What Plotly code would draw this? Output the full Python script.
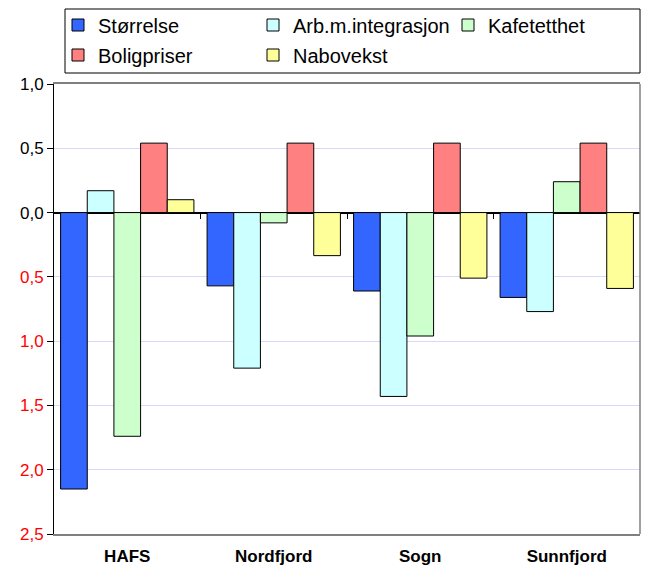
import plotly.graph_objects as go

categories = ["HAFS", "Nordfjord", "Sogn", "Sunnfjord"]

storrelse = [-2.15, -0.57, -0.61, -0.66]
arb_integrasjon = [0.17, -1.21, -1.43, -0.77]
kafetetthet = [-1.74, -0.08, -0.96, 0.24]
boligpriser = [0.54, 0.54, 0.54, 0.54]
nabovekst = [0.10, -0.335, -0.51, -0.59]

series = [
    ("Størrelse", storrelse, "#3366FF", "legend"),
    ("Arb.m.integrasjon", arb_integrasjon, "#CCFFFF", "legend"),
    ("Kafetetthet", kafetetthet, "#CCFFCC", "legend"),
    ("Boligpriser", boligpriser, "#FF8080", "legend2"),
    ("Nabovekst", nabovekst, "#FFFF99", "legend2"),
]

tick_vals = [1.0, 0.5, 0.0, -0.5, -1.0, -1.5, -2.0, -2.5]
tick_text = [
    "1,0", "0,5", "0,0",
    "<span style='color:#FF0000'>0,5</span>",
    "<span style='color:#FF0000'>1,0</span>",
    "<span style='color:#FF0000'>1,5</span>",
    "<span style='color:#FF0000'>2,0</span>",
    "<span style='color:#FF0000'>2,5</span>",
]

font = "Liberation Sans, Arial, sans-serif"

# the page body adds an 8px margin on every side; keep the figure inside the window
OFF = 8
W, H = 649 - 2 * OFF, 575 - 2 * OFF
# plot area in window pixels: x 54..640, y 84..534
ML, MR, MT, MB = 54 - OFF, W - (640 - OFF), 84 - OFF, H - (534 - OFF)
PW, PH = W - ML - MR, H - MT - MB


def px(x):
    # window pixel -> paper fraction
    return (x - OFF - ML) / PW


def py(y):
    return (H - MB - (y - OFF)) / PH


fig = go.Figure()
for name, vals, color, leg in series:
    fig.add_trace(go.Bar(
        x=categories,
        y=vals,
        name=name,
        legend=leg,
        marker=dict(color=color, line=dict(color="#000000", width=1)),
    ))

# empty trace on a second x axis so the category tick marks sit on the zero line
fig.add_trace(go.Scatter(
    x=[0.5, 4.5], y=[None, None], xaxis="x2", showlegend=False, hoverinfo="skip",
))

legend_common = dict(
    orientation="h",
    xref="paper", yref="paper",
    xanchor="left", yanchor="middle",
    bgcolor="rgba(0,0,0,0)",
    borderwidth=0,
    font=dict(family=font, size=20, color="#000000"),
    entrywidth=150,
    entrywidthmode="pixels",
    traceorder="normal",
)

fig.update_layout(
    width=W,
    height=H,
    template="none",
    barmode="group",
    bargap=0.09,
    bargroupgap=0,
    showlegend=True,
    paper_bgcolor="#FFFFFF",
    plot_bgcolor="#FFFFFF",
    margin=dict(l=ML, r=MR, t=MT, b=MB, autoexpand=False),
    font=dict(family=font, size=13, color="#000000"),
    legend=dict(x=px(58), y=py(25), **legend_common),
    legend2=dict(x=px(58), y=py(55), **legend_common),
    xaxis=dict(
        showgrid=False,
        showline=True,
        linecolor="#808080",
        linewidth=1.5,
        mirror=True,
        ticks="",
        tickfont=dict(family=font, size=17, weight="bold", color="#000000"),
        ticklabelstandoff=6,
        zeroline=False,
        automargin=False,
    ),
    xaxis2=dict(
        overlaying="x",
        anchor="free",
        position=2.5 / 3.5,
        range=[0.5, 4.5],
        tickvals=[1.5, 2.5, 3.5],
        ticks="outside",
        ticklen=5,
        tickwidth=1,
        tickcolor="#000000",
        showticklabels=False,
        showgrid=False,
        showline=False,
        zeroline=False,
        automargin=False,
    ),
    yaxis=dict(
        range=[-2.5, 1.0],
        tickvals=tick_vals,
        ticktext=tick_text,
        ticks="outside",
        ticklen=6,
        tickwidth=1,
        tickcolor="#000000",
        showline=True,
        linecolor="#000000",
        linewidth=1,
        showgrid=True,
        gridcolor="#D8D8F8",
        gridwidth=1,
        zeroline=True,
        zerolinecolor="#000000",
        zerolinewidth=1.5,
        tickfont=dict(family=font, size=17, color="#000000"),
        automargin=False,
    ),
    shapes=[
        # legend frame
        dict(type="rect", xref="paper", yref="paper",
             x0=px(65), x1=px(640), y0=py(73), y1=py(9),
             line=dict(color="#000000", width=1), fillcolor="rgba(0,0,0,0)"),
        # grey right border of the plot area
        dict(type="line", xref="paper", yref="paper",
             x0=1, x1=1, y0=0, y1=1,
             line=dict(color="#808080", width=1.5)),
    ],
)

fig.write_html("out.html")
